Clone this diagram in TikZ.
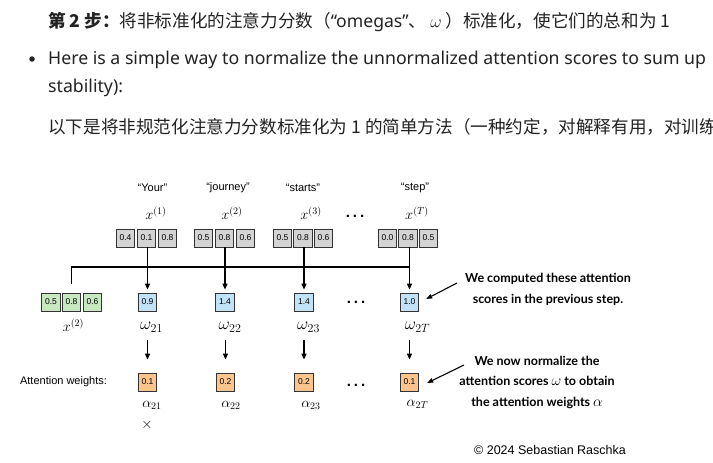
\documentclass[tikz,border=0pt]{standalone}
\usepackage{fix-cm}
\usepackage[no-math]{fontspec}
\setmainfont{Liberation Sans}
\newfontfamily\cjk{Noto Sans CJK SC}
\newfontfamily\latinfont{Noto Sans}
\newfontfamily\annfont{Lato}
\usetikzlibrary{arrows.meta}
\definecolor{grayfill}{HTML}{D4D4D4}
\definecolor{greenfill}{HTML}{C8E8C0}
\definecolor{bluefill}{HTML}{C2E2F8}
\definecolor{orangefill}{HTML}{FBC58D}
\definecolor{boxline}{HTML}{333333}
\definecolor{toptextcol}{HTML}{222222}
\tikzset{
  toptext/.style={font=\cjk\fontsize{17.6}{20}\selectfont, inner sep=0pt, anchor=west, text=toptextcol},
  toplatin/.style={font=\latinfont\fontsize{17.7}{20}\selectfont, inner sep=0pt, anchor=west, text=toptextcol},
  wordlbl/.style={font=\fontsize{11}{13}\selectfont, inner sep=0pt},
  mathlbl/.style={font=\fontsize{14.4}{17}\selectfont, inner sep=0pt},
  omegalbl/.style={font=\fontsize{17.28}{19}\selectfont, inner sep=0pt},
  vecbox/.style={draw=boxline, line width=0.8pt, minimum width=18.5pt, minimum height=18pt, inner sep=0pt, font=\fontsize{8.5}{10}\selectfont},
  graybox/.style={vecbox, fill=grayfill},
  greenbox/.style={vecbox, fill=greenfill},
  bluebox/.style={vecbox, fill=bluefill},
  orangebox/.style={vecbox, fill=orangefill},
  arr/.style={-{Triangle[length=6pt,width=5pt]}, line width=1.3pt},
  arrthin/.style={-{Triangle[length=6pt,width=4.5pt]}, line width=1.1pt},
  connline/.style={line width=1.5pt},
  dots/.style={font=\bfseries\fontsize{15}{15}\selectfont, inner sep=0pt},
  ann/.style={font=\annfont\bfseries\fontsize{12.5}{20.5}\selectfont, align=center, inner sep=0pt}
}
\newcommand{\annmath}[1]{{\fontsize{15}{20.5}\selectfont$#1$}}
\begin{document}
\begin{tikzpicture}[x=1pt,y=-1pt]
\useasboundingbox (0,0) rectangle (713,463);
% top text
\node[toptext] (t1) at (48,22) {{\bfseries 第 2 步：}将非标准化的注意力分数（{\latinfont “omegas”}、 $\omega$ ）标准化，使它们的总和为 1};
\node[circle, fill=toptextcol, inner sep=0pt, minimum size=5.5pt] (bul) at (32,59) {};
\node[toplatin] (t2) at (48,60) {Here is a simple way to normalize the unnormalized attention scores to sum up};
\node[toplatin] (t3) at (48,88) {stability):};
\node[toptext] (t4) at (48,127) {以下是将非规范化注意力分数标准化为 1 的简单方法（一种约定，对解释有用，对训练};

% words
\node[wordlbl] (wd1) at (152.5,188) {“Your”};
\node[wordlbl] (wd2) at (228,188) {“journey”};
\node[wordlbl] (wd3) at (303,188) {“starts”};
\node[wordlbl] (wd4) at (415,188) {“step”};
\node[mathlbl] (x1) at (156,213) {$x^{(1)}$};
\node[mathlbl] (x2) at (232,213) {$x^{(2)}$};
\node[mathlbl] (x3) at (311,213) {$x^{(3)}$};
\node[mathlbl] (xT) at (417,213) {$x^{(T)}$};
\node[dots] (d1) at (355,216) {.\hspace{3pt}.\hspace{3pt}.};

% gray input vectors
\node[graybox] (g11) at (125.5,238) {0.4};
\node[graybox] (g12) at (146.5,238) {0.1};
\node[graybox] (g13) at (167.5,238) {0.8};
\node[graybox] (g21) at (203.5,238) {0.5};
\node[graybox] (g22) at (224.5,238) {0.8};
\node[graybox] (g23) at (245.5,238) {0.6};
\node[graybox] (g31) at (282.5,238) {0.5};
\node[graybox] (g32) at (303,238) {0.8};
\node[graybox] (g33) at (323.5,238) {0.6};
\node[graybox] (g41) at (387.5,238) {0.0};
\node[graybox] (g42) at (408,238) {0.8};
\node[graybox] (g43) at (428.5,238) {0.5};

% query
\node[greenbox] (q1) at (51,302) {0.5};
\node[greenbox] (q2) at (71.5,302) {0.8};
\node[greenbox] (q3) at (92.5,302) {0.6};
\node[mathlbl] (xq) at (73.5,325) {$x^{(2)}$};

% scores
\node[bluebox] (b1) at (147.5,302) {0.9};
\node[bluebox] (b2) at (225,302) {1.4};
\node[bluebox] (b3) at (304,302) {1.4};
\node[bluebox] (b4) at (409.5,302) {1.0};
\node[dots] (d2) at (356,302) {.\hspace{3pt}.\hspace{3pt}.};
\node[omegalbl] (w1) at (151.5,327) {$\omega_{21}$};
\node[omegalbl] (w2) at (230,327) {$\omega_{22}$};
\node[omegalbl] (w3) at (308.5,327) {$\omega_{23}$};
\node[omegalbl] (w4) at (417.5,327) {$\omega_{2T}$};

% weights
\node[wordlbl] (awl) at (63.5,382) {Attention weights:};
\node[orangebox] (o1) at (147.5,382) {0.1};
\node[orangebox] (o2) at (225.5,382) {0.2};
\node[orangebox] (o3) at (304,382) {0.2};
\node[orangebox] (o4) at (409.5,382) {0.1};
\node[dots] (d3) at (356,385) {.\hspace{3pt}.\hspace{3pt}.};
\node[mathlbl] (al1) at (152,405) {$\alpha_{21}$};
\node[mathlbl] (al2) at (231,405) {$\alpha_{22}$};
\node[mathlbl] (al3) at (311,405) {$\alpha_{23}$};
\node[mathlbl] (al4) at (417.5,404) {$\alpha_{2T}$};
\node[mathlbl] (tm) at (147,425) {$\times$};

% connectors
\coordinate (hy) at (0,267);
\draw[connline] ([yshift=9pt]q2.north) |- (b4 |- hy);
\draw[arr, shorten >=3pt] (g12.south -| b1) -- (b1.north);
\draw[arr, shorten >=3pt] (g22.south -| b2) -- (b2.north);
\draw[arr, shorten >=3pt] (g32.south -| b3) -- (b3.north);
\draw[arr, shorten >=3pt] (g42.south -| b4) -- (b4.north);
\draw[arr, shorten <=8pt, shorten >=13pt] (w1.south -| o1) -- (o1.north);
\draw[arr, shorten <=8pt, shorten >=13pt] (w2.south -| o2) -- (o2.north);
\draw[arr, shorten <=8pt, shorten >=13pt] (w3.south -| o3) -- (o3.north);
\draw[arr, shorten <=8pt, shorten >=13pt] (w4.south -| o4) -- (o4.north);

% annotations
\node[ann] (ann1) at (548,289.5) {We computed these attention\\scores in the previous step.};
\node[ann] (ann2) at (537,382) {We now normalize the\\attention scores \annmath{\omega} to obtain\\the attention weights \annmath{\alpha}};
\coordinate (a1s) at (457,283);
\coordinate (a2s) at (464,365);
\draw[arrthin] (a1s) -- ([shift={(7pt,3pt)}]b4.east);
\draw[arrthin] (a2s) -- ([shift={(8pt,-1pt)}]o4.east);

\node[font=\fontsize{12.5}{14}\selectfont, inner sep=0pt] (copy) at (550,450) {© 2024 Sebastian Raschka};
\end{tikzpicture}
\end{document}
